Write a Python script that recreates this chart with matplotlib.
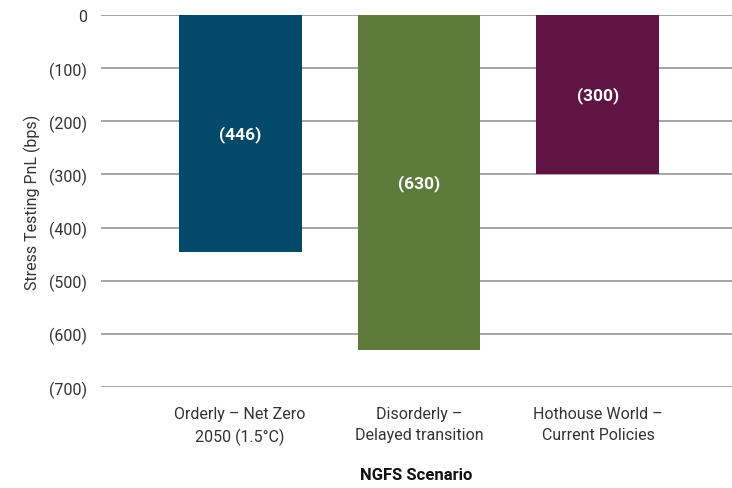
import matplotlib.pyplot as plt
from matplotlib.ticker import FuncFormatter

plt.rcParams['font.family'] = ['Roboto', 'DejaVu Sans']

scenarios = ["Orderly \u2013 Net Zero\n2050 (1.5\u00b0C)",
             "Disorderly \u2013\nDelayed transition",
             "Hothouse World \u2013\nCurrent Policies"]
pnl_bps = [-446, -630, -300]
colors = ["#02496A", "#5E7B3C", "#5F1445"]
yticks = [0, -100, -200, -300, -400, -500, -600, -700]

TEXT = "#333333"


def paren(v, pos=None):
    v = int(round(v))
    return f"({abs(v)})" if v < 0 else f"{v}"


fig = plt.figure(figsize=(7.32, 4.89), dpi=100)
ax = fig.add_axes([101 / 732, 1 - 388 / 489, 1 - 101 / 732, (388 - 16) / 489])

x = list(range(len(scenarios)))
ax.bar(x, pnl_bps, width=0.687, color=colors, zorder=3)
for xi, v in zip(x, pnl_bps):
    ax.text(xi, v / 2, paren(v), ha="center", va="center", color="white",
            fontsize=12.5, fontweight="bold", zorder=4)

ax.set_xlim(-0.777, 2.749)
ax.set_ylim(-700, 0)
ax.set_yticks(yticks)
ax.yaxis.set_major_formatter(FuncFormatter(paren))
ax.grid(axis="y", color="#8a8a8a", linewidth=1.1, zorder=0)
ax.set_axisbelow(True)
for s in ax.spines.values():
    s.set_visible(False)
ax.tick_params(axis="both", length=0, labelsize=11.5, colors=TEXT)
ax.tick_params(axis="y", pad=10)
ax.tick_params(axis="x", pad=14)
ax.set_xticks(x)
ax.set_xticklabels(scenarios, linespacing=1.45)

ax.set_ylabel("Stress Testing PnL (bps)", fontsize=11.5, color=TEXT,
              labelpad=6)
ax.set_xlabel("NGFS Scenario", fontsize=12, fontweight="bold", color="#111111",
              labelpad=16)

fig.savefig("out.png", dpi=100)
